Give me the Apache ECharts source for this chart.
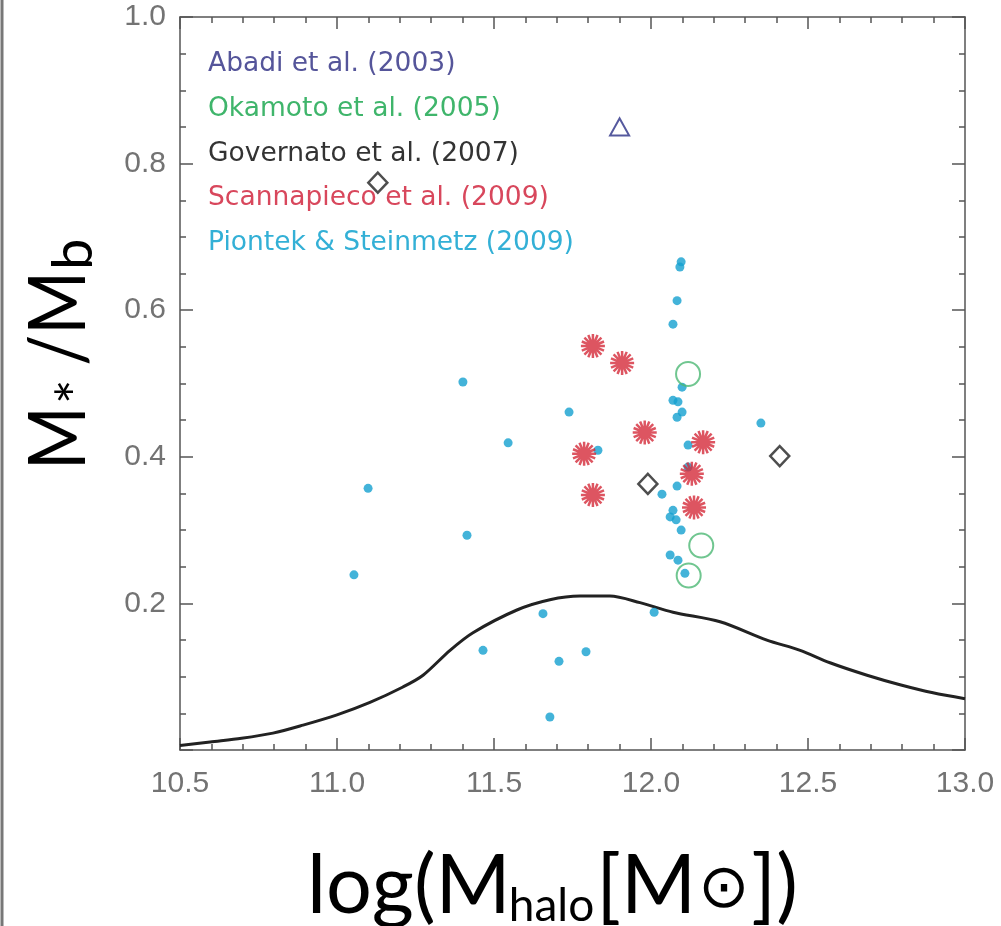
<!DOCTYPE html>
<html>
<head>
<meta charset="utf-8">
<script src="https://cdn.jsdelivr.net/npm/echarts@6/dist/echarts.min.js"></script>
<style>
html,body{margin:0;padding:0;background:#fff;}
#chart{width:1001px;height:926px;}
</style>
</head>
<body>
<div id="chart"></div>
<script>
// ---- data ----
const xTicks = [10.5, 11.0, 11.5, 12.0, 12.5, 13.0];
const yTicks = [0.2, 0.4, 0.6, 0.8, 1.0];

const legendLabels = ['Abadi et al. (2003)', 'Okamoto et al. (2005)', 'Governato et al. (2007)', 'Scannapieco et al. (2009)', 'Piontek & Steinmetz (2009)'];

const abadi = [[11.90, 0.850]];
const okamoto = [[12.118, 0.513], [12.16, 0.279], [12.12, 0.238]];
const governato = [[11.13, 0.774], [11.99, 0.363], [12.41, 0.401]];
const scannapieco = [[11.815, 0.551], [11.908, 0.528], [11.98, 0.433], [11.787, 0.404], [11.815, 0.348], [12.166, 0.420], [12.13, 0.377], [12.137, 0.331]];
const piontek = [
  [12.096, 0.666], [12.092, 0.659], [12.083, 0.613], [12.070, 0.581], [11.401, 0.502],
  [12.099, 0.495], [12.070, 0.477], [12.086, 0.475], [12.099, 0.461], [12.083, 0.454],
  [11.739, 0.461], [12.350, 0.446], [11.545, 0.419], [11.831, 0.409], [12.118, 0.416],
  [12.118, 0.386], [12.083, 0.360], [12.035, 0.349], [12.070, 0.327], [12.061, 0.318],
  [12.080, 0.314], [12.096, 0.300], [11.414, 0.293], [12.061, 0.266], [12.086, 0.259],
  [12.108, 0.241], [11.099, 0.357], [11.054, 0.239], [11.465, 0.136], [11.656, 0.186],
  [11.707, 0.121], [11.793, 0.134], [11.678, 0.045], [12.010, 0.188]
];
const curveX = [10.50, 10.596, 10.696, 10.796, 10.892, 11.0, 11.105, 11.21, 11.274, 11.36, 11.433, 11.573, 11.678, 11.774, 11.869, 11.965, 12.07, 12.22, 12.369, 12.475, 12.57, 12.688, 12.793, 12.898, 13.0];
const curveY = [0.006, 0.011, 0.016, 0.023, 0.034, 0.048, 0.065, 0.086, 0.102, 0.136, 0.160, 0.191, 0.205, 0.210, 0.210, 0.201, 0.188, 0.175, 0.150, 0.136, 0.119, 0.102, 0.089, 0.078, 0.070];

// ---- style ----
const C = {
  abadiText: '#55559a', abadi: '#2b2f86',
  okaText: '#3fb56b', oka: '#4cb874',
  govText: '#333333', gov: '#222222',
  scanText: '#d8475c', scan: '#d52a3a',
  pioText: '#33b0d6', pio: '#14a0cf'
};
const legendColors = [C.abadiText, C.okaText, C.govText, C.scanText, C.pioText];
const axisColor = '#555';
const asteriskPath = 'path://M12,0L12,24M0,12L24,12M3.5,3.5L20.5,20.5M3.5,20.5L20.5,3.5M7.4,0.9L16.6,23.1M16.6,0.9L7.4,23.1M0.9,7.4L23.1,16.6M0.9,16.6L23.1,7.4';

function fmt(v) { return v === 0 ? '' : v.toFixed(1); }

const mctx = document.createElement('canvas').getContext('2d');
function tw(text, font) { mctx.font = font; return mctx.measureText(text).width; }

function mkX(pos, showLabel) {
  return {
    type: 'value', position: pos, min: 10.5, max: 13.0, interval: 0.5,
    axisLine: { show: true, onZero: false, lineStyle: { color: axisColor, width: 1.5 } },
    axisTick: { show: true, inside: true, length: 12, lineStyle: { color: axisColor, width: 1.5 } },
    minorTick: { show: true, splitNumber: 5, length: 6, lineStyle: { color: axisColor, width: 1.5 } },
    splitLine: { show: false }, minorSplitLine: { show: false },
    axisLabel: { show: showLabel, margin: 19, fontSize: 30, color: '#737373', fontFamily: 'Liberation Sans', formatter: fmt }
  };
}
function mkY(pos, showLabel) {
  return {
    type: 'value', position: pos, min: 0, max: 1.0, interval: 0.2,
    axisLine: { show: true, onZero: false, lineStyle: { color: axisColor, width: 1.5 } },
    axisTick: { show: true, inside: true, length: 13, lineStyle: { color: axisColor, width: 1.5 } },
    minorTick: { show: true, splitNumber: 4, length: 6, lineStyle: { color: axisColor, width: 1.5 } },
    splitLine: { show: false }, minorSplitLine: { show: false },
    axisLabel: { show: showLabel, margin: 14, fontSize: 30, color: '#737373', fontFamily: 'Liberation Sans', formatter: fmt }
  };
}

const graphics = [];
// left frame line
graphics.push({ type: 'line', shape: { x1: 2, y1: 0, x2: 2, y2: 926 }, style: { stroke: '#777', lineWidth: 3 } });
// legend texts
const legendY = [64, 109, 154, 198, 243];
legendLabels.forEach((t, i) => {
  graphics.push({ type: 'text', x: 208, y: legendY[i], style: { text: t, fill: legendColors[i], font: '26.5px "DejaVu Sans"', textVerticalAlign: 'middle', verticalAlign: 'middle' } });
});

// x-axis title, pieces laid out one after another
const tf = 'Lato';
const bigF = '81px ' + tf;
const subF = '46px ' + tf;
const symF = '61px "DejaVu Sans"';
const xParts = [
  { t: 'log(M', f: bigF, dy: 0 },
  { t: 'halo', f: subF, dy: 19, gap: -2 },
  { t: '[M', f: bigF, dy: 0, gap: 2 },
  { t: '\u2299', f: symF, dy: 4, gap: 2 },
  { t: '])', f: bigF, dy: 0, gap: 2 }
];
let cx = 307;
xParts.forEach(p => {
  cx += (p.gap || 0);
  graphics.push({ type: 'text', x: cx, y: 887 + p.dy, style: { text: p.t, fill: '#000', font: p.f, verticalAlign: 'middle', textVerticalAlign: 'middle' } });
  cx += tw(p.t, p.f);
});

// y-axis title (rotated), laid out along its own baseline
const yBigF = '80px ' + tf;
const ySc = 0.86;
const yParts = [
  { t: 'M', f: yBigF, dy: -26, sc: ySc },
  { t: '*', f: '58px ' + tf, dy: -6, sc: 1, gap: 2 },
  { t: ' /M', f: yBigF, dy: -26, sc: ySc, gap: -4 },
  { t: 'b', f: '56px ' + tf, dy: -11, sc: 1, gap: 1 }
];
const yChildren = [];
let ly = 0;
yParts.forEach(p => {
  ly += (p.gap || 0);
  yChildren.push({ type: 'text', x: ly, y: p.dy, scaleX: p.sc, style: { text: p.t, fill: '#000', font: p.f, verticalAlign: 'middle', textVerticalAlign: 'middle' } });
  ly += tw(p.t, p.f) * p.sc;
});
graphics.push({ type: 'group', x: 85, y: 470, rotation: Math.PI / 2, children: yChildren });

const chart = echarts.init(document.getElementById('chart'), null, { renderer: 'canvas' });
chart.setOption({
  backgroundColor: '#fff',
  animation: false,
  grid: { left: 180, right: 36, top: 17, bottom: 176, containLabel: false },
  xAxis: [mkX('bottom', true), mkX('top', false)],
  yAxis: [mkY('left', true), mkY('right', false)],
  graphic: graphics,
  series: [
    { type: 'line', xAxisIndex: 0, yAxisIndex: 0, data: curveX.map((x, i) => [x, curveY[i]]), smooth: 0.3, symbol: 'none', lineStyle: { color: '#222', width: 3 }, z: 2 },
    { type: 'scatter', name: legendLabels[4], data: piontek, symbol: 'circle', symbolSize: 9, itemStyle: { color: C.pio }, z: 3 },
    { type: 'scatter', name: legendLabels[1], data: okamoto, symbol: 'circle', symbolSize: 24, itemStyle: { color: 'rgba(0,0,0,0)', borderColor: C.oka, borderWidth: 2 }, z: 4 },
    { type: 'scatter', name: legendLabels[3], data: scannapieco, symbol: asteriskPath, symbolSize: 24, itemStyle: { color: C.scan, borderColor: C.scan, borderWidth: 2.5 }, z: 5 },
    { type: 'scatter', name: legendLabels[2], data: governato, symbol: 'diamond', symbolSize: [19, 20], itemStyle: { color: 'rgba(0,0,0,0)', borderColor: C.gov, borderWidth: 2.5 }, z: 6 },
    { type: 'scatter', name: legendLabels[0], data: abadi, symbol: 'triangle', symbolSize: [19, 17], itemStyle: { color: 'rgba(0,0,0,0)', borderColor: C.abadi, borderWidth: 2 }, z: 6 }
  ]
});
</script>
</body>
</html>
